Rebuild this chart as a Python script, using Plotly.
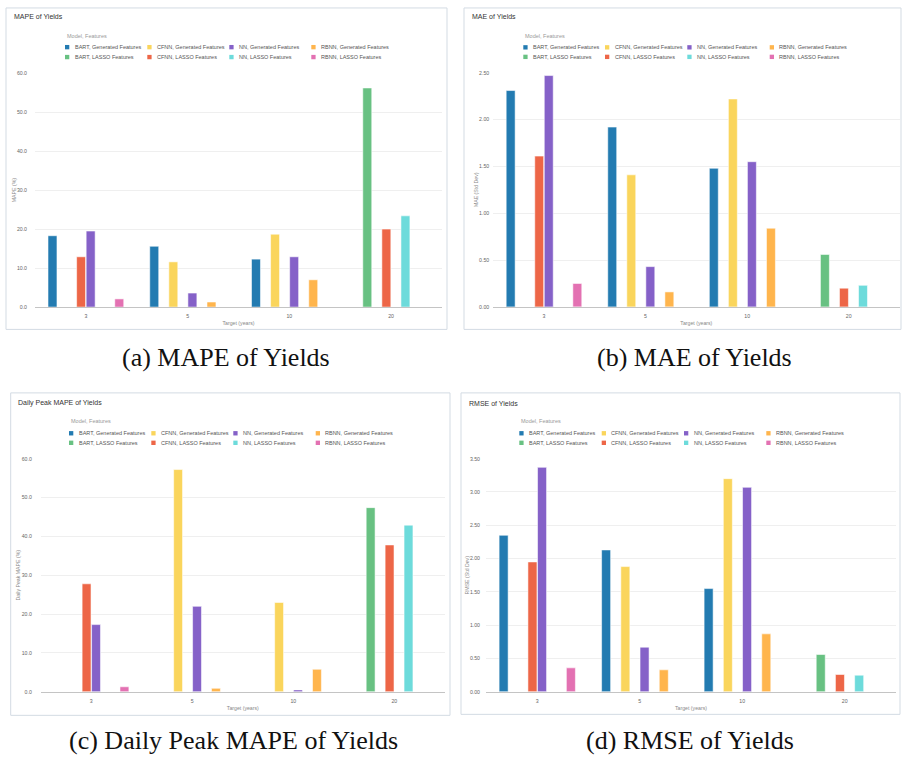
import plotly.graph_objects as go

# ---------------- data ----------------
targets = ["3", "5", "10", "20"]
models = ["BART", "CFNN", "NN", "RBNN"]
feature_sets = ["Generated Features", "LASSO Features"]

# MAPE of Yields (%)
mape_bart_gen = [18.3, 15.6, 12.3, None]
mape_bart_lasso = [None, None, None, 56.2]
mape_cfnn_gen = [None, 11.6, 18.7, None]
mape_cfnn_lasso = [12.9, None, None, 20.0]
mape_nn_gen = [19.5, 3.6, 12.9, None]
mape_nn_lasso = [None, None, None, 23.4]
mape_rbnn_gen = [None, 1.3, 7.0, None]
mape_rbnn_lasso = [2.1, None, None, None]

# MAE of Yields (Std Dev)
mae_bart_gen = [2.31, 1.92, 1.48, None]
mae_bart_lasso = [None, None, None, 0.56]
mae_cfnn_gen = [None, 1.41, 2.22, None]
mae_cfnn_lasso = [1.61, None, None, 0.20]
mae_nn_gen = [2.47, 0.43, 1.55, None]
mae_nn_lasso = [None, None, None, 0.23]
mae_rbnn_gen = [None, 0.16, 0.84, None]
mae_rbnn_lasso = [0.25, None, None, None]

# Daily Peak MAPE of Yields (%)
dpm_bart_gen = [None, None, None, None]
dpm_bart_lasso = [None, None, None, 47.4]
dpm_cfnn_gen = [None, 57.2, 23.0, None]
dpm_cfnn_lasso = [27.8, None, None, 37.8]
dpm_nn_gen = [17.3, 22.0, 0.5, None]
dpm_nn_lasso = [None, None, None, 42.9]
dpm_rbnn_gen = [None, 0.9, 5.8, None]
dpm_rbnn_lasso = [1.3, None, None, None]

# RMSE of Yields (Std Dev)
rmse_bart_gen = [2.35, 2.13, 1.55, None]
rmse_bart_lasso = [None, None, None, 0.56]
rmse_cfnn_gen = [None, 1.88, 3.20, None]
rmse_cfnn_lasso = [1.95, None, None, 0.26]
rmse_nn_gen = [3.37, 0.67, 3.07, None]
rmse_nn_lasso = [None, None, None, 0.25]
rmse_rbnn_gen = [None, 0.33, 0.87, None]
rmse_rbnn_lasso = [0.36, None, None, None]

series_names = [
    "BART, Generated Features", "BART, LASSO Features",
    "CFNN, Generated Features", "CFNN, LASSO Features",
    "NN, Generated Features", "NN, LASSO Features",
    "RBNN, Generated Features", "RBNN, LASSO Features",
]
series_colors = ["#237bb1", "#68c182", "#fad55c", "#ed6647",
                 "#8561c8", "#6ddbdb", "#ffb54d", "#e371b2"]

panels = [
    dict(title="MAPE of Yields", ytitle="MAPE (%)", caption="(a) MAPE of Yields",
         values=[mape_bart_gen, mape_bart_lasso, mape_cfnn_gen, mape_cfnn_lasso,
                 mape_nn_gen, mape_nn_lasso, mape_rbnn_gen, mape_rbnn_lasso],
         yrange=[0, 60], dtick=10, fmt=".1f"),
    dict(title="MAE of Yields", ytitle="MAE (Std Dev)", caption="(b) MAE of Yields",
         values=[mae_bart_gen, mae_bart_lasso, mae_cfnn_gen, mae_cfnn_lasso,
                 mae_nn_gen, mae_nn_lasso, mae_rbnn_gen, mae_rbnn_lasso],
         yrange=[0, 2.5], dtick=0.5, fmt=".2f"),
    dict(title="Daily Peak MAPE of Yields", ytitle="Daily Peak MAPE (%)",
         caption="(c) Daily Peak MAPE of Yields",
         values=[dpm_bart_gen, dpm_bart_lasso, dpm_cfnn_gen, dpm_cfnn_lasso,
                 dpm_nn_gen, dpm_nn_lasso, dpm_rbnn_gen, dpm_rbnn_lasso],
         yrange=[0, 60], dtick=10, fmt=".1f"),
    dict(title="RMSE of Yields", ytitle="RMSE (Std Dev)", caption="(d) RMSE of Yields",
         values=[rmse_bart_gen, rmse_bart_lasso, rmse_cfnn_gen, rmse_cfnn_lasso,
                 rmse_nn_gen, rmse_nn_lasso, rmse_rbnn_gen, rmse_rbnn_lasso],
         yrange=[0, 3.5], dtick=0.5, fmt=".2f"),
]

# ---------------- layout geometry (pixels) ----------------
W, H = 903, 761
geo = [
    dict(box=(6, 5, 447, 329), plot=(35, 70.7, 442, 306.5), title=(12, 14),
         ltitle=(65, 33), cols=(65, 147.3, 229.3, 311.3), rows=(44.5, 54.5),
         tls=7, cap=(226, 357)),
    dict(box=(464, 5, 901, 329), plot=(493.2, 70.3, 899.5, 306.3), title=(470, 14),
         ltitle=(522.7, 33), cols=(523.3, 605, 687.3, 769.7), rows=(44.7, 54.3),
         tls=3, cap=(694, 357)),
    dict(box=(10.7, 393, 450, 718), plot=(40.8, 459.3, 444.8, 694.3), title=(16.3, 403.3),
         ltitle=(69, 421.7), cols=(69, 151.3, 233.3, 315.7), rows=(433.7, 443.3),
         tls=8, cap=(234, 743)),
    dict(box=(461, 393, 900, 717), plot=(486, 459.3, 896, 694.3), title=(466.7, 403.3),
         ltitle=(519, 421.7), cols=(519.3, 601.7, 684, 766.3), rows=(433.7, 443.3),
         tls=5, cap=(690, 743)),
]


def px(x):
    return x / W


def py(y):
    return 1 - y / H


FONT = "Liberation Sans, Arial, sans-serif"
fig = go.Figure()
shapes = []
annotations = []

for i, (p, g) in enumerate(zip(panels, geo)):
    n = "" if i == 0 else str(i + 1)
    xa, ya = "x" + n, "y" + n
    for name, color, vals in zip(series_names, series_colors, p["values"]):
        fig.add_trace(go.Bar(
            x=targets, y=vals, name=name, xaxis=xa, yaxis=ya,
            marker=dict(color=color, line=dict(color="rgba(255,255,255,0.55)", width=1)),
            showlegend=False,
        ))
    x0, y0, x1, y1 = g["plot"]
    fig.layout["xaxis" + n] = dict(
        domain=[px(x0), px(x1)], anchor=ya, type="category",
        showline=True, linecolor="#c4c4c4", linewidth=1, showgrid=False,
        ticks="", tickfont=dict(family=FONT, size=5.2, color="#666666"),
        ticklabelstandoff=4,
        title=dict(text="Target (years)", font=dict(family=FONT, size=5.2, color="#888888"),
                   standoff=3),
    )
    fig.layout["yaxis" + n] = dict(
        domain=[py(y1), py(y0)], anchor=xa, range=p["yrange"], dtick=p["dtick"],
        tickformat=p["fmt"], showgrid=True, gridcolor="#efefef", gridwidth=1,
        zeroline=False, showline=False, ticks="",
        tickfont=dict(family=FONT, size=5.2, color="#666666"),
        ticklabelstandoff=g["tls"],
        title=dict(text=p["ytitle"], font=dict(family=FONT, size=5.2, color="#888888"),
                   standoff=0),
    )
    bx0, by0, bx1, by1 = g["box"]
    shapes.append(dict(type="rect", xref="paper", yref="paper",
                       x0=px(bx0), x1=px(bx1), y0=py(by1), y1=py(by0),
                       line=dict(color="#d3dbe3", width=1), fillcolor="rgba(0,0,0,0)"))
    annotations.append(dict(text=p["title"], xref="paper", yref="paper",
                            x=px(g["title"][0]), y=py(g["title"][1]),
                            xanchor="left", yanchor="middle", showarrow=False,
                            font=dict(family=FONT, size=7, color="#333333")))
    annotations.append(dict(text="Model, Features", xref="paper", yref="paper",
                            x=px(g["ltitle"][0]), y=py(g["ltitle"][1]),
                            xanchor="left", yanchor="middle", showarrow=False,
                            font=dict(family=FONT, size=5.5, color="#999999")))
    # legend: row 1 = generated features, row 2 = LASSO features; columns = models
    for ci, m in enumerate(models):
        for ri, fs in enumerate(feature_sets):
            idx = ci * 2 + ri
            sx = g["cols"][ci]
            sy = g["rows"][ri]
            shapes.append(dict(type="rect", xref="paper", yref="paper",
                               x0=px(sx), x1=px(sx + 4.3), y0=py(sy + 2.2), y1=py(sy - 2.2),
                               line=dict(width=0), fillcolor=series_colors[idx]))
            annotations.append(dict(text=f"{m}, {fs}", xref="paper", yref="paper",
                                    x=px(sx + 7.5), y=py(sy), xanchor="left", yanchor="middle",
                                    showarrow=False,
                                    font=dict(family=FONT, size=5.5, color="#555555")))
    annotations.append(dict(text=p["caption"], xref="paper", yref="paper",
                            x=px(g["cap"][0]), y=py(g["cap"][1]),
                            xanchor="center", yanchor="middle", showarrow=False,
                            font=dict(family="Liberation Serif, DejaVu Serif, serif",
                                      size=26, color="#111111")))

fig.update_layout(
    width=W, height=H, margin=dict(l=0, r=0, t=0, b=0),
    paper_bgcolor="white", plot_bgcolor="white",
    barmode="group", bargap=0.25, bargroupgap=0.06,
    showlegend=False, shapes=shapes, annotations=annotations,
    font=dict(family=FONT),
)

fig.write_html("out.html", config={"displayModeBar": False},
               post_script="document.body.style.margin='0px';")
